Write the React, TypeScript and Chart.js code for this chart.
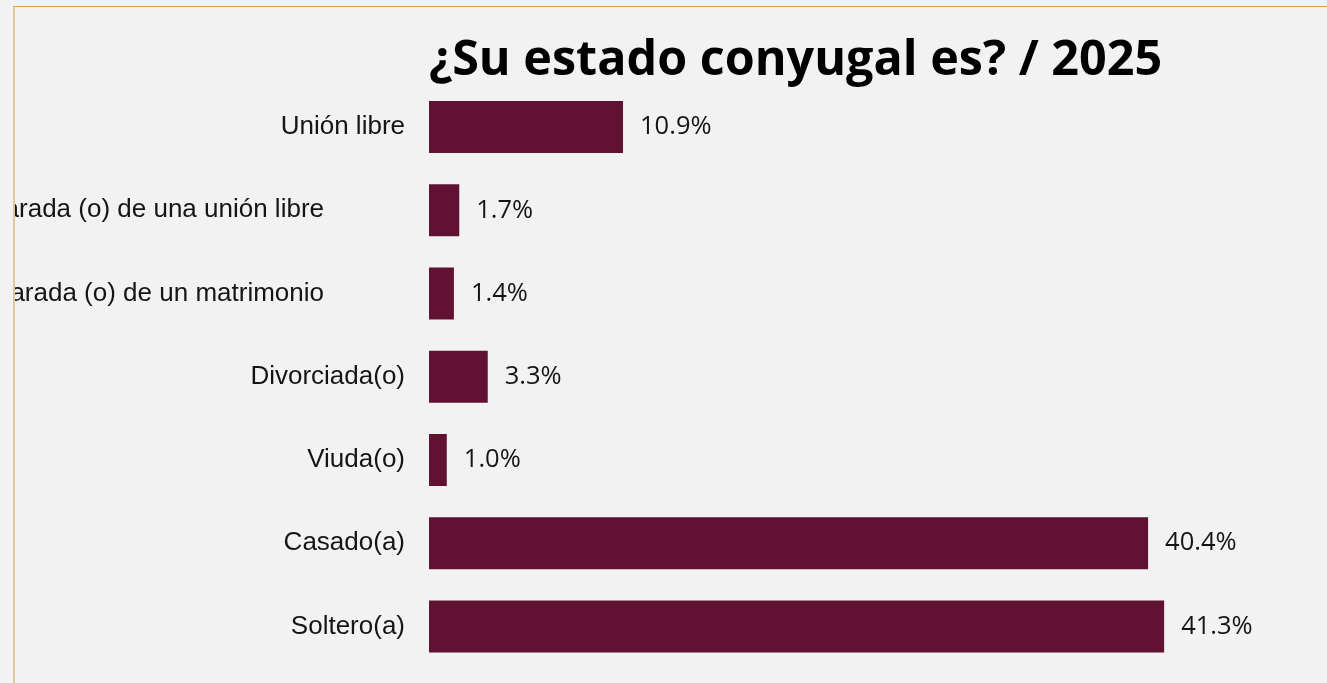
import React, { useEffect, useRef } from "react";
import { Chart, registerables } from "chart.js";

Chart.register(...registerables);

const categories = [
  "Unión libre",
  "Separada (o) de una unión libre",
  "Separada (o) de un matrimonio",
  "Divorciada(o)",
  "Viuda(o)",
  "Casado(a)",
  "Soltero(a)",
];
const values = [10.9, 1.7, 1.4, 3.3, 1.0, 40.4, 41.3];
const longLabels = ["Separada (o) de una unión libre", "Separada (o) de un matrimonio"];
const titleText = "¿Su estado conyugal es? / 2025";

const BAR_COLOR = "#611232";
const TEXT_COLOR = "#151515";

const labelsPlugin = {
  id: "customLabels",
  afterDatasetsDraw(chart: any) {
    const ctx = chart.ctx;
    const meta = chart.getDatasetMeta(0);
    const yScale = chart.scales.y;
    const area = chart.chartArea;
    ctx.save();
    // value labels
    ctx.font = "25.5px 'Open Sans'";
    ctx.fillStyle = TEXT_COLOR;
    ctx.textAlign = "left";
    ctx.textBaseline = "middle";
    meta.data.forEach((bar: any, i: number) => {
      ctx.fillText(values[i].toFixed(1) + "%", bar.x + 17, bar.y);
    });
    // category labels
    ctx.font = "26px 'Liberation Sans', Arial, sans-serif";
    ctx.textAlign = "right";
    categories.forEach((c, i) => {
      const y = yScale.getPixelForTick(i);
      const x = longLabels.includes(c) ? area.left - 105 : area.left - 24;
      ctx.fillText(c, x, y);
    });
    ctx.restore();
  },
};

export default function App() {
  const ref = useRef<HTMLCanvasElement | null>(null);
  useEffect(() => {
    if (!ref.current) return;
    const chart = new Chart(ref.current, {
      type: "bar",
      data: {
        labels: categories,
        datasets: [
          {
            data: values,
            backgroundColor: BAR_COLOR,
            borderWidth: 0,
            barPercentage: 0.625,
            categoryPercentage: 1,
          },
        ],
      },
      options: {
        indexAxis: "y",
        animation: false,
        responsive: true,
        maintainAspectRatio: false,
        layout: { padding: { left: 414, right: 8, top: 0, bottom: 15 } },
        scales: {
          x: { display: false, min: 0, max: 50 },
          y: { display: false, offset: true },
        },
        plugins: {
          legend: { display: false },
          tooltip: { enabled: false },
          title: {
            display: true,
            text: titleText,
            align: "start",
            fullSize: false,
            color: "#000",
            font: { family: "'Open Sans'", size: 48.5, weight: "bold", lineHeight: 1 },
            padding: { top: 29, bottom: 0 },
          },
        },
      },
      plugins: [labelsPlugin],
    });
    return () => chart.destroy();
  }, []);

  return (
    <div style={{ position: "fixed", inset: 0, background: "#f2f2f2", overflow: "hidden" }}>
      <div
        style={{
          position: "absolute",
          left: 13,
          top: 6,
          right: -10,
          bottom: -10,
          borderTop: "1px solid #d19b52",
          borderLeft: "2px solid #e2c79c",
        }}
      />
      <div style={{ position: "absolute", left: 15, top: 8, width: 1312, height: 675 }}>
        <canvas ref={ref} />
      </div>
    </div>
  );
}
